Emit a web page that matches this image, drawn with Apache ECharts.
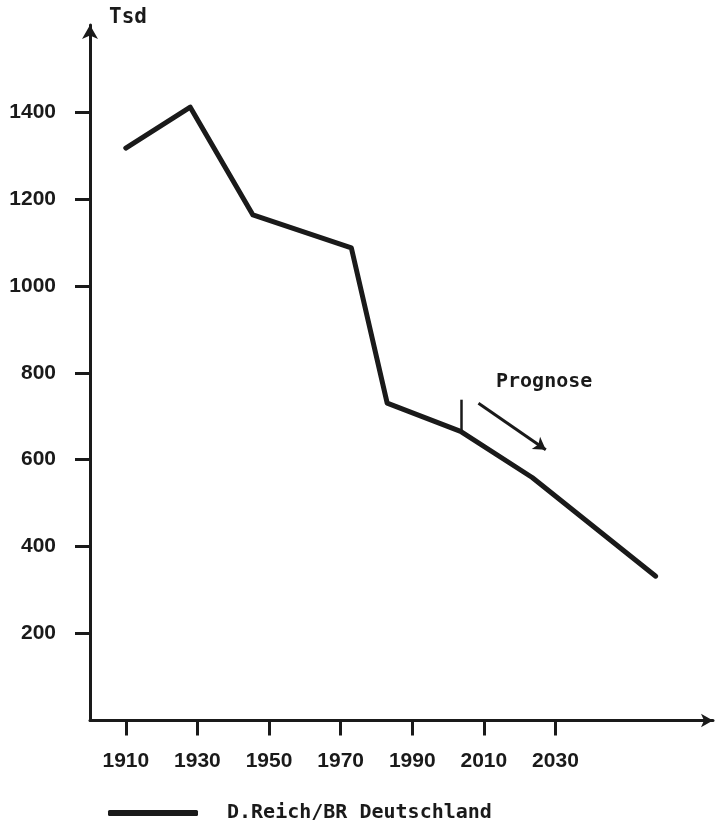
<!DOCTYPE html>
<html>
<head>
<meta charset="utf-8">
<script src="https://cdn.jsdelivr.net/npm/echarts@6/dist/echarts.min.js"></script>
<style>
  html, body { margin: 0; padding: 0; background: #ffffff; }
  #chart { width: 717px; height: 826px; }
</style>
</head>
<body>
<div id="chart"></div>
<script>
// values (Tsd)
const years = [1910, 1928, 1945.5, 1973, 1983, 2003.5, 2023.5, 2058];
const values = [1317, 1411, 1163, 1087, 730, 665, 559, 332];

const xTicks = [1910, 1930, 1950, 1970, 1990, 2010, 2030];
const yTicks = [200, 400, 600, 800, 1000, 1200, 1400];

// prognosis marker and arrow (in data units)
const prognoseMark = [[2003.6, 738], [2003.6, 665]];
const prognoseArrow = [[2008.5, 730], [2027.3, 623]];

const ink = '#1a1a1a';
const labelFont = {
    color: ink,
    fontFamily: 'Liberation Sans',
    fontWeight: 'bold',
    fontSize: 21,
    formatter: v => String(v)
};

const chart = echarts.init(document.getElementById('chart'));

chart.setOption({
    animation: false,
    grid: { left: 90, right: 4, top: 25, bottom: 105.5 },
    xAxis: {
        type: 'value',
        min: 1900,
        max: 2074,
        splitLine: { show: false },
        axisLine: {
            lineStyle: { color: ink, width: 3 },
            symbol: ['none', 'arrow'],
            symbolSize: [10, 12]
        },
        axisTick: {
            customValues: xTicks,
            length: 15,
            lineStyle: { color: ink, width: 3 }
        },
        axisLabel: Object.assign({ customValues: xTicks, margin: 30 }, labelFont)
    },
    yAxis: {
        type: 'value',
        min: 0,
        max: 1600,
        splitLine: { show: false },
        axisLine: {
            show: true,
            lineStyle: { color: ink, width: 3 },
            symbol: ['none', 'arrow'],
            symbolSize: [12, 14]
        },
        axisTick: {
            show: true,
            customValues: yTicks,
            length: 15,
            lineStyle: { color: ink, width: 3 }
        },
        axisLabel: Object.assign({ customValues: yTicks, margin: 34 }, labelFont)
    },
    legend: {
        left: 103,
        top: 798,
        itemWidth: 90,
        itemHeight: 6,
        icon: 'roundRect',
        textStyle: {
            color: ink,
            fontFamily: 'DejaVu Sans Mono',
            fontWeight: 'bold',
            fontSize: 20,
            padding: [0, 0, 0, 24]
        },
        data: ['D.Reich/BR Deutschland']
    },
    graphic: [
        {
            type: 'text',
            left: 109,
            top: 7,
            style: {
                text: 'Tsd',
                fill: ink,
                font: 'bold 21px "DejaVu Sans Mono"'
            }
        },
        {
            type: 'text',
            left: 496,
            top: 372,
            style: {
                text: 'Prognose',
                fill: ink,
                font: 'bold 20px "DejaVu Sans Mono"'
            }
        }
    ],
    series: [
        {
            name: 'D.Reich/BR Deutschland',
            type: 'line',
            data: years.map((y, i) => [y, values[i]]),
            showSymbol: false,
            symbol: 'none',
            itemStyle: { color: ink },
            lineStyle: { color: ink, width: 5, join: 'round', cap: 'round' },
            silent: true,
            markLine: {
                silent: true,
                animation: false,
                label: { show: false },
                data: [
                    [
                        { coord: prognoseMark[0], symbol: 'none', lineStyle: { color: ink, width: 2.5, type: 'solid' } },
                        { coord: prognoseMark[1], symbol: 'none' }
                    ],
                    [
                        { coord: prognoseArrow[0], symbol: 'none', lineStyle: { color: ink, width: 3, type: 'solid' } },
                        { coord: prognoseArrow[1], symbol: 'arrow', symbolSize: [11, 12] }
                    ]
                ]
            }
        }
    ]
});
</script>
</body>
</html>
